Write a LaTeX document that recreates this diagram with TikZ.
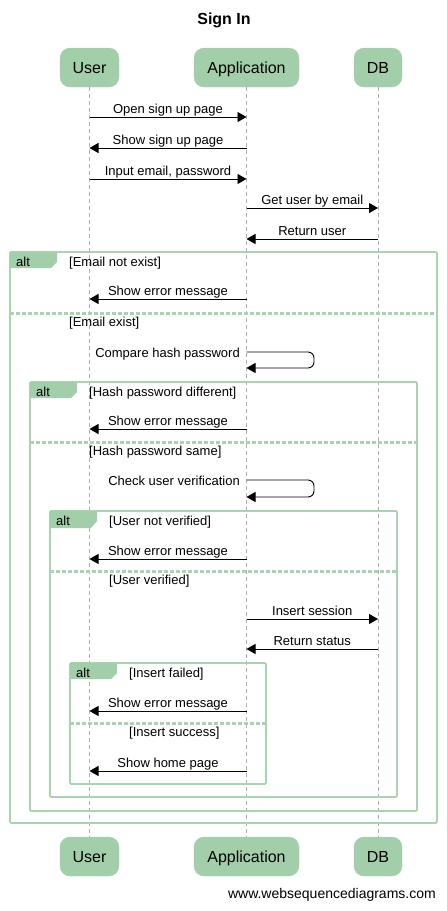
\documentclass[tikz,border=0pt]{standalone}
\usepackage{fontspec}
\setmainfont{Liberation Sans}
\usetikzlibrary{arrows.meta}

\definecolor{wsdgreen}{RGB}{162,207,169}
\definecolor{wsdline}{RGB}{168,213,176}
\definecolor{lifegray}{RGB}{175,175,175}

\begin{document}
\begin{tikzpicture}[x=1pt, y=-1pt, >={Triangle[length=9pt,width=10pt]},
  actor/.style={draw=wsdline, fill=wsdgreen, rounded corners=10pt, minimum height=39pt, text height=11.5pt, text depth=0.5pt, font=\fontsize{16}{18}\selectfont},
  lifeline/.style={lifegray, dash pattern=on 4pt off 3pt, line width=0.8pt},
  msg/.style={->, line width=0.9pt},
  lbl/.style={font=\fontsize{13}{15}\selectfont, inner sep=1pt, text height=9.5pt, text depth=2.5pt},
  frame/.style={draw=wsdline, line width=1.6pt, rounded corners=1pt},
  elsesep/.style={wsdline, line width=3pt, dash pattern=on 4pt off 2pt}]

  \useasboundingbox (0,0) rectangle (447,911);

  \node[font=\bfseries\fontsize{16}{18}\selectfont] (title) at (224,20) {Sign In};

  % participants
  \node[actor, minimum width=59pt] (userTop) at (89.5,67.5) {User};
  \node[actor, minimum width=105pt] (appTop) at (246.5,67.5) {Application};
  \node[actor, minimum width=48pt] (dbTop) at (378,67.5) {DB};
  \node[actor, minimum width=59pt] (userBot) at (89.5,856.5) {User};
  \node[actor, minimum width=105pt] (appBot) at (246.5,856.5) {Application};
  \node[actor, minimum width=48pt] (dbBot) at (378,856.5) {DB};

  \draw[lifeline] (userTop) -- (userBot);
  \draw[lifeline] (appTop) -- (appBot);
  \draw[lifeline] (dbTop) -- (dbBot);

  % before any alt
  \draw[msg] (userTop|-0,117) -- (appTop|-0,117) node[lbl, above, midway] (m1) {Open sign up page};
  \draw[msg] (appTop|-0,148) -- (userTop|-0,148) node[lbl, above, midway] (m2) {Show sign up page};
  \draw[msg] (userTop|-0,179) -- (appTop|-0,179) node[lbl, above, midway] (m3) {Input email, password};
  \draw[msg] (appTop|-0,208) -- (dbTop|-0,208) node[lbl, above, midway] (m4) {Get user by email};
  \draw[msg] (dbTop|-0,239) -- (appTop|-0,239) node[lbl, above, midway] (m5) {Return user};

  % alt: email
  \draw[frame] (10,252) rectangle (437,823);
  \fill[wsdgreen] (10,252) -- (57,252) -- (57,262) -- (51,268) -- (10,268) -- cycle;
  \node[lbl, anchor=west] (alt1) at (15,262.5) {alt};
  \node[lbl, anchor=west] (if1) at (68,262.5) {[Email not exist]};
  \draw[msg] (appTop|-0,299) -- (userTop|-0,299) node[lbl, above, midway] (m6) {Show error message};
  \draw[elsesep] (10,313) -- (437,313);
  \node[lbl, anchor=west] (else1) at (68,323) {[Email exist]};
  \draw[msg, rounded corners=6pt] (appTop|-0,352) -- (314,352) -- (314,368) -- (appTop|-0,368);
  \node[lbl, anchor=east] (m7) at (241,353.5) {Compare hash password};

  % alt: hash password
  \draw[frame] (30,382) rectangle (417,811);
  \fill[wsdgreen] (30,382) -- (77,382) -- (77,392) -- (71,398) -- (30,398) -- cycle;
  \node[lbl, anchor=west] (alt2) at (35,392.5) {alt};
  \node[lbl, anchor=west] (if2) at (88,392.5) {[Hash password different]};
  \draw[msg] (appTop|-0,429) -- (userTop|-0,429) node[lbl, above, midway] (m8) {Show error message};
  \draw[elsesep] (30,442) -- (417,442);
  \node[lbl, anchor=west] (else2) at (88,452) {[Hash password same]};
  \draw[msg, rounded corners=6pt] (appTop|-0,480) -- (314,480) -- (314,497) -- (appTop|-0,497);
  \node[lbl, anchor=east] (m9) at (241,482) {Check user verification};

  % alt: verification
  \draw[frame] (50,511) rectangle (397,797);
  \fill[wsdgreen] (50,511) -- (97,511) -- (97,521) -- (91,528) -- (50,528) -- cycle;
  \node[lbl, anchor=west] (alt3) at (55,521.5) {alt};
  \node[lbl, anchor=west] (if3) at (108,521.5) {[User not verified]};
  \draw[msg] (appTop|-0,559) -- (userTop|-0,559) node[lbl, above, midway] (m10) {Show error message};
  \draw[elsesep] (50,571) -- (397,571);
  \node[lbl, anchor=west] (else3) at (108,581) {[User verified]};
  \draw[msg] (appTop|-0,619) -- (dbTop|-0,619) node[lbl, above, midway] (m11) {Insert session};
  \draw[msg] (dbTop|-0,649) -- (appTop|-0,649) node[lbl, above, midway] (m12) {Return status};

  % alt: insert
  \draw[frame] (70,663) rectangle (266,784);
  \fill[wsdgreen] (70,663) -- (117,663) -- (117,673) -- (111,679) -- (70,679) -- cycle;
  \node[lbl, anchor=west] (alt4) at (75,673.5) {alt};
  \node[lbl, anchor=west] (if4) at (128,673.5) {[Insert failed]};
  \draw[msg] (appTop|-0,711) -- (userTop|-0,711) node[lbl, above, midway] (m13) {Show error message};
  \draw[elsesep] (70,723) -- (266,723);
  \node[lbl, anchor=west] (else4) at (128,733) {[Insert success]};
  \draw[msg] (appTop|-0,771) -- (userTop|-0,771) node[lbl, above, midway] (m14) {Show home page};

  \node[font=\fontsize{14}{16}\selectfont, anchor=east, inner sep=1pt] (footer) at (437,895) {www.websequencediagrams.com};
\end{tikzpicture}
\end{document}
